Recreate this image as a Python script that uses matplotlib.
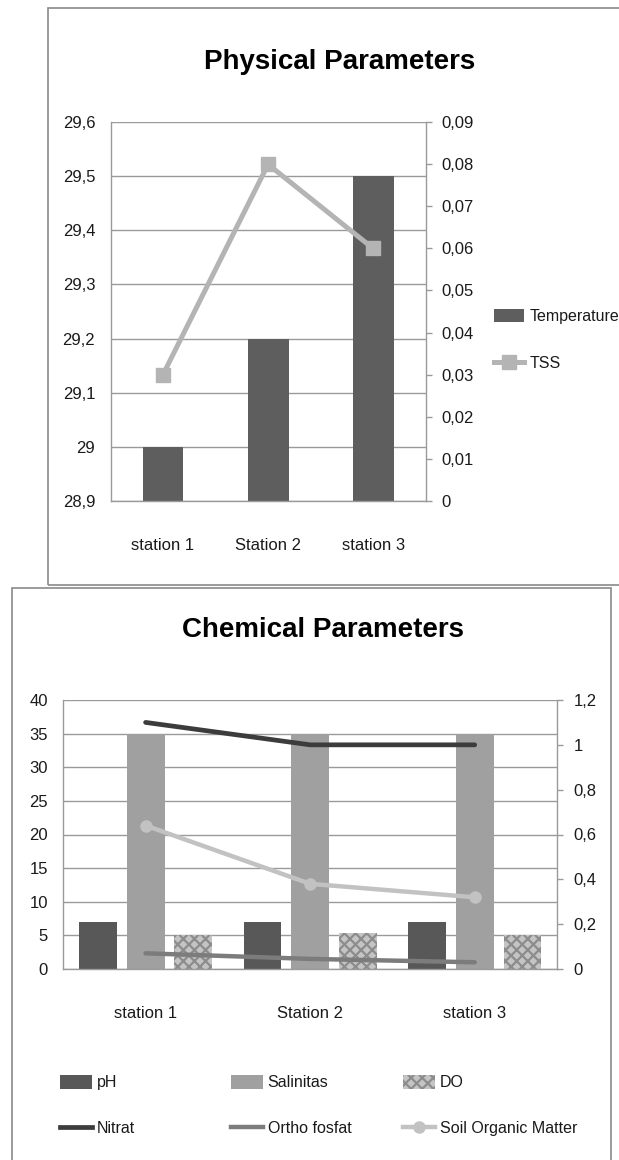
"""Station water-quality summary: physical and chemical parameter charts."""
import matplotlib

matplotlib.use("Agg")
import matplotlib.pyplot as plt
import numpy as np
from matplotlib.lines import Line2D
from matplotlib.patches import Patch, Rectangle
from matplotlib.ticker import FuncFormatter

plt.rcParams["font.family"] = ["Liberation Sans", "DejaVu Sans"]
plt.rcParams["hatch.linewidth"] = 1.6

# --- data -------------------------------------------------------------
stations = ["station 1", "Station 2", "station 3"]

temperature = [29.0, 29.2, 29.5]
tss = [0.03, 0.08, 0.06]

ph = [7.0, 7.0, 7.0]
salinitas = [35.0, 35.0, 35.0]
do = [5.1, 5.4, 5.1]
nitrat = [1.1, 1.0, 1.0]
ortho_fosfat = [0.07, 0.045, 0.03]
soil_organic = [0.64, 0.38, 0.32]

temp_ticks = [28.9, 29.0, 29.1, 29.2, 29.3, 29.4, 29.5, 29.6]
tss_ticks = [0, 0.01, 0.02, 0.03, 0.04, 0.05, 0.06, 0.07, 0.08, 0.09]
chem_ticks = [0, 5, 10, 15, 20, 25, 30, 35, 40]
chem_right_ticks = [0, 0.2, 0.4, 0.6, 0.8, 1.0, 1.2]

# --- styling ----------------------------------------------------------
W, H = 619, 1160
INK = "#1a1a1a"
GRID = "#9a9a9a"
C_TEMP = "#5e5e5e"
C_TSS = "#b4b4b4"
C_PH = "#585858"
C_SAL = "#a0a0a0"
C_DO_FACE = "#c4c4c4"
C_DO_HATCH = "#8c8c8c"
C_NIT = "#3c3c3c"
C_ORTHO = "#7c7c7c"
C_SOM = "#c2c2c2"
TICK_FS = 12
LEG_FS = 11.5
TITLE_FS = 20


def comma(v, _pos=None):
    # decimal comma, integers without fraction
    if abs(v - round(v)) < 1e-9:
        return f"{int(round(v))}"
    s = f"{v:.2f}".rstrip("0")
    return s.replace(".", ",")


def fig_rect(x0, y0, x1, y1):
    """Pixel box (top-left origin) -> figure-fraction axes rect."""
    return [x0 / W, 1 - y1 / H, (x1 - x0) / W, (y1 - y0) / H]


def style_axes(ax, ax2, left_pad, right_pad):
    ax.set_xlim(-0.5, 2.5)
    ax.set_xticks(np.arange(len(stations)))
    ax.set_xticklabels(stations)
    ax.tick_params(axis="x", length=0, pad=27, labelsize=TICK_FS, colors=INK)
    ax.tick_params(axis="y", length=0, pad=left_pad, labelsize=TICK_FS, colors=INK)
    ax.yaxis.set_major_formatter(FuncFormatter(comma))
    ax.grid(axis="y", color=GRID, linewidth=1.0, zorder=0)
    ax.set_axisbelow(True)
    for sp in ("top", "right"):
        ax.spines[sp].set_visible(False)
    for sp in ("left", "bottom"):
        ax.spines[sp].set_color(GRID)
        ax.spines[sp].set_linewidth(1.0)
    ax2.tick_params(axis="y", length=4, width=1.0, color=GRID, pad=right_pad,
                    labelsize=TICK_FS, labelcolor=INK)
    ax2.yaxis.set_major_formatter(FuncFormatter(comma))
    for sp in ("top", "left", "bottom"):
        ax2.spines[sp].set_visible(False)
    ax2.spines["right"].set_color(GRID)
    ax2.spines["right"].set_linewidth(1.0)


fig = plt.figure(figsize=(W / 100, H / 100), dpi=100)
x = np.arange(len(stations))

# panel frames
frame_kw = dict(fill=False, edgecolor="#8a8a8a", linewidth=1.2, transform=None)
fig.add_artist(Rectangle((48, H - 585), 700, 577, **frame_kw))
fig.add_artist(Rectangle((12, -20), 599, H - 588 + 20, **frame_kw))

# --- Physical Parameters ---------------------------------------------
ax = fig.add_axes(fig_rect(110.5, 122.3, 425.6, 500.7))
ax2 = ax.twinx()
ax.bar(x, [t - temp_ticks[0] for t in temperature], bottom=temp_ticks[0],
       width=0.39, color=C_TEMP, zorder=2)
ax.set_ylim(temp_ticks[0], temp_ticks[-1])
ax.set_yticks(temp_ticks)
ax2.plot(x, tss, color=C_TSS, linewidth=3.6, marker="s", markersize=10,
         markerfacecolor=C_TSS, markeredgecolor=C_TSS, zorder=3)
ax2.set_ylim(tss_ticks[0], tss_ticks[-1])
ax2.set_yticks(tss_ticks)
style_axes(ax, ax2, left_pad=11, right_pad=7)

fig.text(339.5 / W, 1 - 62 / H, "Physical Parameters", ha="center", va="center",
         fontsize=TITLE_FS, fontweight="bold", color="#000000")

top_handles = [
    Patch(facecolor=C_TEMP, edgecolor="none"),
    Line2D([], [], color=C_TSS, linewidth=3.6, marker="s", markersize=10),
]
fig.legend(top_handles, ["Temperature", "TSS"], loc="center left",
           bbox_to_anchor=(494 / W, 1 - 340 / H), frameon=False,
           fontsize=LEG_FS, handlelength=1.9, handleheight=0.95,
           handletextpad=0.3, labelspacing=2.0, borderpad=0,
           borderaxespad=0, labelcolor=INK)

# --- Chemical Parameters ---------------------------------------------
bx = fig.add_axes(fig_rect(63.3, 700, 557, 969))
bx2 = bx.twinx()
bw = 0.23
off = 0.29
bx.bar(x - off, ph, width=bw, color=C_PH, zorder=2)
bx.bar(x, salinitas, width=bw, color=C_SAL, zorder=2)
bx.bar(x + off, do, width=bw, facecolor=C_DO_FACE, edgecolor=C_DO_HATCH,
       hatch="xxx", linewidth=0, zorder=2)
bx.set_ylim(chem_ticks[0], chem_ticks[-1])
bx.set_yticks(chem_ticks)

bx2.plot(x, nitrat, color=C_NIT, linewidth=3.4, solid_capstyle="round", zorder=3)
bx2.plot(x, ortho_fosfat, color=C_ORTHO, linewidth=3.2, solid_capstyle="round", zorder=3)
bx2.plot(x, soil_organic, color=C_SOM, linewidth=3.2, marker="o", markersize=8,
         markerfacecolor=C_SOM, markeredgecolor=C_SOM, zorder=3)
bx2.set_ylim(chem_right_ticks[0], chem_right_ticks[-1])
bx2.set_yticks(chem_right_ticks)
style_axes(bx, bx2, left_pad=11, right_pad=8)

fig.text(322.7 / W, 1 - 630 / H, "Chemical Parameters", ha="center", va="center",
         fontsize=TITLE_FS, fontweight="bold", color="#000000")

# legend below: three columns, bar entry on top and line entry beneath
columns = [
    (60, Patch(facecolor=C_PH, edgecolor="none"), "pH",
     Line2D([], [], color=C_NIT, linewidth=3.4), "Nitrat"),
    (231, Patch(facecolor=C_SAL, edgecolor="none"), "Salinitas",
     Line2D([], [], color=C_ORTHO, linewidth=3.2), "Ortho fosfat"),
    (403, Patch(facecolor=C_DO_FACE, edgecolor=C_DO_HATCH, hatch="xxx", linewidth=0), "DO",
     Line2D([], [], color=C_SOM, linewidth=3.2, marker="o", markersize=8), "Soil Organic Matter"),
]
for xpos, h1, l1, h2, l2 in columns:
    fig.legend([h1, h2], [l1, l2], loc="center left",
               bbox_to_anchor=(xpos / W, 1 - 1105.5 / H), frameon=False,
               fontsize=LEG_FS, handlelength=2.0, handleheight=0.95,
               handletextpad=0.3, labelspacing=1.9, borderpad=0,
               borderaxespad=0, labelcolor=INK)

fig.savefig("out.png", dpi=100, facecolor="white")
